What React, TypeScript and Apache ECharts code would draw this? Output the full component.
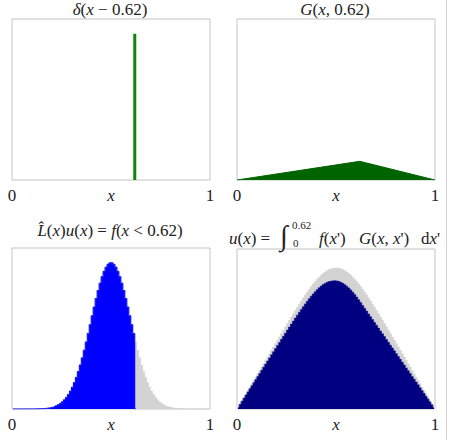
import React, { useEffect, useRef } from "react";
import * as echarts from "echarts";

// ---------- data ----------
// delta(x - 0.62)
const deltaX = [0.62, 0.62];
const deltaY = [0, 1];
// G(x, 0.62)
const greenX = [0, 0.62, 1];
const greenY = [0, 0.2356, 0];
// f(x) on 100 bins (full) and truncated at x < 0.62
const fFull = [
  0, 0, 0, 0, 0, 0.0001, 0.0001, 0.0001, 0.0002, 0.0003,
  0.0004, 0.0006, 0.0009, 0.0013, 0.0018, 0.0026, 0.0037, 0.0051, 0.007, 0.0095,
  0.0129, 0.0172, 0.0228, 0.0299, 0.0387, 0.0497, 0.0632, 0.0796, 0.0991, 0.1223,
  0.1494, 0.1806, 0.2163, 0.2563, 0.3008, 0.3495, 0.402, 0.4578, 0.5162, 0.5762,
  0.6368, 0.6968, 0.7548, 0.8096, 0.8596, 0.9037, 0.9406, 0.9692, 0.9888, 0.9988,
  0.9988, 0.9888, 0.9692, 0.9406, 0.9037, 0.8596, 0.8096, 0.7548, 0.6968, 0.6368,
  0.5762, 0.5162, 0.4578, 0.402, 0.3495, 0.3008, 0.2563, 0.2163, 0.1806, 0.1494,
  0.1223, 0.0991, 0.0796, 0.0632, 0.0497, 0.0387, 0.0299, 0.0228, 0.0172, 0.0129,
  0.0095, 0.007, 0.0051, 0.0037, 0.0026, 0.0018, 0.0013, 0.0009, 0.0006, 0.0004,
  0.0003, 0.0002, 0.0001, 0.0001, 0.0001, 0, 0, 0, 0, 0,
];
const fTrunc = [
  0, 0, 0, 0, 0, 0.0001, 0.0001, 0.0001, 0.0002, 0.0003,
  0.0004, 0.0006, 0.0009, 0.0013, 0.0018, 0.0026, 0.0037, 0.0051, 0.007, 0.0095,
  0.0129, 0.0172, 0.0228, 0.0299, 0.0387, 0.0497, 0.0632, 0.0796, 0.0991, 0.1223,
  0.1494, 0.1806, 0.2163, 0.2563, 0.3008, 0.3495, 0.402, 0.4578, 0.5162, 0.5762,
  0.6368, 0.6968, 0.7548, 0.8096, 0.8596, 0.9037, 0.9406, 0.9692, 0.9888, 0.9988,
  0.9988, 0.9888, 0.9692, 0.9406, 0.9037, 0.8596, 0.8096, 0.7548, 0.6968, 0.6368,
  0.5762, 0.5162, 0,
];
// u(x): full and truncated
const uFull = [
  0.0025, 0.0075, 0.0125, 0.0175, 0.0225, 0.0275, 0.0325, 0.0375, 0.0425, 0.0475,
  0.0525, 0.0575, 0.0625, 0.0675, 0.0725, 0.0775, 0.0825, 0.0875, 0.0925, 0.0975,
  0.1025, 0.1074, 0.1124, 0.1174, 0.1223, 0.1273, 0.1322, 0.1371, 0.1419, 0.1468,
  0.1515, 0.1562, 0.1609, 0.1654, 0.1699, 0.1742, 0.1784, 0.1824, 0.1863, 0.1899,
  0.1933, 0.1965, 0.1994, 0.202, 0.2042, 0.2061, 0.2077, 0.2089, 0.2097, 0.2101,
  0.2101, 0.2097, 0.2089, 0.2077, 0.2061, 0.2042, 0.202, 0.1994, 0.1965, 0.1933,
  0.1899, 0.1863, 0.1824, 0.1784, 0.1742, 0.1699, 0.1654, 0.1609, 0.1562, 0.1515,
  0.1468, 0.1419, 0.1371, 0.1322, 0.1273, 0.1223, 0.1174, 0.1124, 0.1074, 0.1025,
  0.0975, 0.0925, 0.0875, 0.0825, 0.0775, 0.0725, 0.0675, 0.0625, 0.0575, 0.0525,
  0.0475, 0.0425, 0.0375, 0.0325, 0.0275, 0.0225, 0.0175, 0.0125, 0.0075, 0.0025,
];
const uTrunc = [
  0.0023, 0.0069, 0.0115, 0.0162, 0.0208, 0.0254, 0.03, 0.0346, 0.0393, 0.0439,
  0.0485, 0.0531, 0.0577, 0.0624, 0.067, 0.0716, 0.0762, 0.0808, 0.0854, 0.0901,
  0.0947, 0.0992, 0.1038, 0.1084, 0.113, 0.1176, 0.1221, 0.1266, 0.131, 0.1355,
  0.1399, 0.1442, 0.1485, 0.1526, 0.1567, 0.1607, 0.1645, 0.1681, 0.1716, 0.1748,
  0.1779, 0.1807, 0.1832, 0.1854, 0.1872, 0.1888, 0.19, 0.1908, 0.1912, 0.1912,
  0.1908, 0.1901, 0.1889, 0.1873, 0.1853, 0.183, 0.1805, 0.1775, 0.1742, 0.1706,
  0.1668, 0.1629, 0.1586, 0.1544, 0.1502, 0.1459, 0.1417, 0.1375, 0.1333, 0.129,
  0.1248, 0.1206, 0.1163, 0.1121, 0.1079, 0.1036, 0.0994, 0.0952, 0.091, 0.0867,
  0.0825, 0.0783, 0.074, 0.0698, 0.0656, 0.0613, 0.0571, 0.0529, 0.0486, 0.0444,
  0.0402, 0.036, 0.0317, 0.0275, 0.0233, 0.019, 0.0148, 0.0106, 0.0063, 0.0021,
];
const bins = fFull.map((_, i) => String(i));
const tickLabels = ["0", "x", "1"];

// ---------- styles ----------
const SERIF = "Liberation Serif";
const INK = "#222";
const FS = 17;
const richBase = {
  n: { fontFamily: SERIF, fontSize: FS, color: INK },
  i: { fontFamily: SERIF, fontSize: FS, color: INK, fontStyle: "italic" },
};

function txt(x: number, y: number, text: string, align = "center", size = FS, rich: any = richBase) {
  const style: any = {
    text,
    align,
    textAlign: align,
    verticalAlign: "middle",
    textVerticalAlign: "middle",
    fill: INK,
    fontFamily: SERIF,
    fontSize: size,
  };
  if (rich) style.rich = rich;
  return { type: "text", x, y, silent: true, style };
}

export default function App() {
  const ref = useRef<HTMLDivElement>(null);
  useEffect(() => {
    if (!ref.current) return;
    const chart = echarts.init(ref.current, null, { renderer: "svg" });
    const gridBase = {
      show: true,
      borderColor: "#c4c4c4",
      borderWidth: 1,
      backgroundColor: "transparent",
      containLabel: false,
    };
    const valueX = (gridIndex: number) => ({
      type: "value",
      gridIndex,
      min: 0,
      max: 1,
      interval: 0.5,
      position: "bottom",
      axisLine: { show: false },
      axisTick: { show: false },
      splitLine: { show: false },
      axisLabel: {
        show: true,
        margin: 7,
        showMinLabel: true,
        showMaxLabel: true,
        fontFamily: SERIF,
        fontSize: FS,
        color: INK,
        rich: richBase,
        formatter: (v: number) =>
          v === 0 ? `{n|${tickLabels[0]}}` : v === 1 ? `{n|${tickLabels[2]}}` : `{i|${tickLabels[1]}}`,
      },
    });
    const catX = (gridIndex: number) => ({
      type: "category",
      gridIndex,
      data: bins,
      show: false,
      position: "bottom",
      boundaryGap: true,
    });
    const yAx = (gridIndex: number, max: number) => ({
      type: "value",
      gridIndex,
      min: 0,
      max,
      show: false,
      splitLine: { show: false },
    });
    const option: any = {
      animation: false,
      textStyle: { fontFamily: SERIF },
      grid: [
        { ...gridBase, left: 12, top: 19, width: 198, height: 161 },
        { ...gridBase, left: 237, top: 19, width: 198, height: 161 },
        { ...gridBase, left: 12, top: 248, width: 198, height: 161 },
        { ...gridBase, left: 237, top: 249, width: 198, height: 160 },
      ],
      xAxis: [valueX(0), valueX(1), valueX(2), catX(2), valueX(3), catX(3)],
      yAxis: [yAx(0, 1.1), yAx(1, 2.03), yAx(2, 1.1), yAx(3, 0.2385)],
      series: [
        {
          type: "line",
          xAxisIndex: 0,
          yAxisIndex: 0,
          data: deltaX.map((x, i) => [x, deltaY[i]]),
          symbol: "none",
          lineStyle: { color: "#0f850f", width: 3 },
        },
        {
          type: "line",
          xAxisIndex: 1,
          yAxisIndex: 1,
          data: greenX.map((x, i) => [x, greenY[i]]),
          symbol: "none",
          lineStyle: { color: "#006400", width: 1 },
          areaStyle: { color: "#006400", opacity: 1 },
        },
        {
          type: "line",
          xAxisIndex: 3,
          yAxisIndex: 2,
          data: fFull,
          step: "middle",
          symbol: "none",
          lineStyle: { color: "#d3d3d3", width: 0.5 },
          areaStyle: { color: "#d3d3d3", opacity: 1 },
        },
        {
          type: "line",
          xAxisIndex: 3,
          yAxisIndex: 2,
          data: fTrunc,
          step: "middle",
          symbol: "none",
          lineStyle: { color: "#0000ff", width: 1 },
          areaStyle: { color: "#0000ff", opacity: 1 },
        },
        {
          type: "line",
          xAxisIndex: 5,
          yAxisIndex: 3,
          data: uFull,
          step: "middle",
          symbol: "none",
          lineStyle: { color: "#d3d3d3", width: 0.5 },
          areaStyle: { color: "#d3d3d3", opacity: 1 },
        },
        {
          type: "line",
          xAxisIndex: 5,
          yAxisIndex: 3,
          data: uTrunc,
          step: "middle",
          symbol: "none",
          lineStyle: { color: "#000080", width: 0.5 },
          areaStyle: { color: "#000080", opacity: 1 },
        },
      ],
      graphic: [
        txt(110, 9, "{i|δ}{n|(}{i|x}{n| − 0.62)}"),
        txt(335, 9, "{i|G}{n|(}{i|x}{n|, 0.62)}"),
        txt(110, 230, "{i|L̂}{n|(}{i|x}{n|)}{i|u}{n|(}{i|x}{n|) = }{i|f}{n|(}{i|x}{n| < 0.62)}"),
        txt(229, 238, "{i|u}{n|(}{i|x}{n|) =}", "left"),
        txt(280, 235, "∫", "left", 28, null),
        txt(292, 225, "0.62", "left", 11, null),
        txt(293, 243, "0", "left", 11, null),
        txt(319, 238, "{i|f}{n|(}{i|x}{n|')}", "left"),
        txt(359, 238, "{i|G}{n|(}{i|x}{n|, }{i|x}{n|')}", "left"),
        txt(421, 238, "{n|d}{i|x}{n|'}", "left"),
        {
          type: "line",
          silent: true,
          shape: { x1: 446.5, y1: 0, x2: 446.5, y2: 440 },
          style: { stroke: "#d6d6d6", lineWidth: 1 },
        },
      ],
    };
    chart.setOption(option);
    return () => chart.dispose();
  }, []);
  return (
    <div
      ref={ref}
      style={{ position: "absolute", left: 0, top: 0, width: 449, height: 446, background: "#fff" }}
    />
  );
}
